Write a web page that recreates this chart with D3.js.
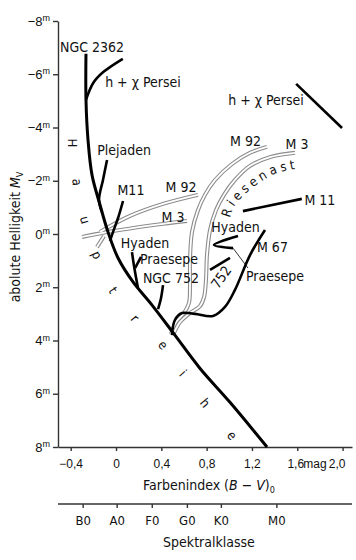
<!DOCTYPE html>
<html><head><meta charset="utf-8">
<script src="https://cdn.jsdelivr.net/npm/d3@7"></script>
<style>
html,body{margin:0;padding:0;background:#fff;}
svg{display:block;font-family:"Liberation Sans Narrow","DejaVu Sans Condensed","Roboto",sans-serif;}
</style></head><body>
<svg id="c" width="356" height="560"></svg>
<script>
// ---------- data ----------
const bvTicks = [-0.4, 0, 0.4, 0.8, 1.2, 1.6, 2.0];
const bvTickLabels = ["−0,4", "0", "0,4", "0,8", "1,2", "1,6", "2,0"];
const mvTicks = [-8, -6, -4, -2, 0, 2, 4, 6, 8];
const mvTickLabels = ["−8", "−6", "−4", "−2", "0", "2", "4", "6", "8"];
const spectralClasses = ["B0", "A0", "F0", "G0", "K0", "M0"];
const spectralBV = [-0.29, 0.01, 0.32, 0.63, 0.93, 1.42];

// main sequence (Hauptreihe) incl. NGC 2362 top, [B-V, Mv]
const mainSequence = [[-0.265,-6.77],[-0.265,-5.04],[-0.247,-3.53],[-0.212,-2.22],[-0.141,-1.09],
  [-0.071,-0.08],[0.018,0.90],[0.15,1.80],[0.318,2.67],[0.52,3.80],[0.74,5.04],[1.006,6.32],[1.333,8.0]];
// black cluster branches
const hChiPerseiMS = [[-0.265,-5.04],[-0.2,-5.68],[-0.11,-6.09],[0.06,-6.58]];
const hChiPerseiGiants = [[1.59,-5.64],[1.995,-3.98]];
const plejaden = [[-0.079,-2.78],[-0.115,-2.03],[-0.15,-1.28],[-0.124,-0.83]];
const m11MS = [[0.062,-1.24],[0.018,-0.60],[-0.026,-0.08],[-0.053,0.26]];
const m11Giants = [[1.12,-0.86],[1.64,-1.32]];
const hyadenMS = [[0.141,0.68],[0.159,1.20],[0.194,2.03]];
const praesepeMS = [[0.221,0.86],[0.168,1.28]];
const ngc752MS = [[0.415,1.92],[0.397,2.41],[0.371,2.82]];
const hyadenGiants = [[1.077,0.075],[0.865,0.41],[1.033,0.53]];
const ngc752Giants = [[0.83,1.35],[1.006,0.9]];
const m67 = [[1.315,-0.15],[1.183,0.79],[1.05,2.1],[0.962,2.74],[0.856,3.08],[0.697,3.0],[0.583,2.97],[0.52,3.23],[0.494,3.8]];
const praesepeLeader = [[1.033,0.53],[1.165,1.28]];
// globular clusters (double lines)
const m92RGB = [[0.485,3.76],[0.530,3.31],[0.600,2.97],[0.644,2.59],[0.653,1.92],[0.653,0.98],[0.671,-0.08],
  [0.724,-0.90],[0.785,-1.47],[0.874,-2.03],[1.024,-2.63],[1.183,-3.05],[1.333,-3.27]];
const m3RGB = [[0.503,3.80],[0.565,3.31],[0.653,2.97],[0.741,2.71],[0.777,2.37],[0.794,1.73],[0.803,0.79],
  [0.830,-0.15],[0.883,-0.90],[0.953,-1.47],[1.050,-2.03],[1.183,-2.56],[1.359,-2.89],[1.580,-3.05]];
const m92HB = [[-0.141,-0.08],[0.124,-0.68],[0.415,-1.13],[0.724,-1.47]];
const m3HB = [[-0.30,0.11],[-0.026,-0.11],[0.415,-0.38],[0.627,-0.49]];
const hbStub = [[-0.106,0.08],[-0.168,0.49]];

// labels [text, B-V, Mv]
const clusterLabels = [
  ["NGC 2362",-0.212,-6.84],["h + χ Persei",0.238,-5.53],["h + χ Persei",1.324,-4.85],
  ["Plejaden",0.071,-2.97],["M11",0.132,-1.47],["M 92",0.574,-1.58],["M 3",0.503,-0.45],
  ["Hyaden",0.256,0.53],["Praesepe",0.468,1.13],["NGC 752",0.485,1.84],
  ["M 92",1.143,-3.31],["M 3",1.598,-3.2],["Hyaden",1.055,-0.07],["M 11",1.80,-1.09],
  ["M 67",1.381,0.68],["Praesepe",1.403,1.77]];
// "Hauptreihe" letters [char, B-V, Mv, angle]
const hauptreiheLetters = [["H",-0.38,-3.42,90],["a",-0.344,-1.95,85],["u",-0.274,-0.53,75],["p",-0.168,0.79,65],
  ["t",-0.026,2.11,57],["r",0.168,3.16,50],["e",0.415,4.17,48],["i",0.591,5.23,48],["h",0.786,6.35,50],["e",1.024,7.56,50]];
const riesenastPath = [[0.997,-0.45],[1.041,-1.02],[1.103,-1.35],[1.192,-1.69],[1.289,-1.99],[1.403,-2.26],[1.536,-2.41],[1.62,-2.47]];

// ---------- chart ----------
const svg = d3.select("#c");
const x = d3.scaleLinear().domain([-0.512, 2.083]).range([58, 352]);
const y = d3.scaleLinear().domain([-8, 8]).range([21, 447]);
const line = d3.line().x(d => x(d[0])).y(d => y(d[1])).curve(d3.curveCatmullRom.alpha(0.5));
const axisColor = "#333";
const txt = "#111";

// Y axis
const gy = svg.append("g").attr("transform", "translate(58,0)")
  .call(d3.axisLeft(y).tickValues(mvTicks).tickSize(5).tickSizeOuter(0).tickPadding(3));
gy.selectAll("path,line").attr("stroke", axisColor).attr("stroke-width", 1.4);
gy.selectAll("text").each(function(d, i) {
  const t = d3.select(this).text("").attr("font-size", 13).attr("fill", txt).attr("font-family", null);
  t.append("tspan").text(mvTickLabels[i]);
  t.append("tspan").text("m").attr("font-size", 9).attr("dy", "-0.5em");
});

// X axis
const gx = svg.append("g").attr("transform", "translate(0,447)")
  .call(d3.axisBottom(x).tickValues(bvTicks).tickSize(4).tickSizeOuter(0).tickPadding(8)
    .tickFormat((d, i) => bvTickLabels[i]));
gx.selectAll("path,line").attr("stroke", axisColor).attr("stroke-width", 1.4);
gx.selectAll("text").attr("font-size", 12).attr("fill", txt).attr("font-family", null)
  .attr("dx", (d, i) => i === bvTicks.length - 1 ? -6 : (i === bvTicks.length - 2 ? -2 : 0));
gx.append("text").attr("x", 315).attr("y", 12).attr("dy", "0.71em")
  .attr("font-size", 12).attr("fill", txt).attr("text-anchor", "middle").text("mag");

// spectral class axis
const sx = d3.scaleOrdinal().domain(spectralClasses).range(spectralBV.map(v => x(v)));
const gs = svg.append("g").attr("transform", "translate(0,504)");
gs.append("line").attr("x1", 58).attr("x2", 352).attr("stroke", axisColor).attr("stroke-width", 1.4);
gs.selectAll("line.t").data(spectralClasses).join("line").attr("class", "t")
  .attr("x1", d => sx(d)).attr("x2", d => sx(d)).attr("y1", 0).attr("y2", 4)
  .attr("stroke", axisColor).attr("stroke-width", 1.4);
gs.selectAll("text").data(spectralClasses).join("text")
  .attr("x", d => sx(d)).attr("y", 21).attr("text-anchor", "middle")
  .attr("font-size", 13).attr("fill", txt).text(d => d);

// axis titles
const yt = svg.append("text").attr("transform", "translate(20,237) rotate(-90)")
  .attr("text-anchor", "middle").attr("font-size", 14).attr("fill", txt);
yt.append("tspan").text("abolute Helligkeit ");
yt.append("tspan").text("M").attr("font-style", "italic");
yt.append("tspan").text("V").attr("font-size", 9).attr("dy", 3);

const xt = svg.append("text").attr("x", 209).attr("y", 490).attr("text-anchor", "middle")
  .attr("font-size", 14).attr("fill", txt);
xt.append("tspan").text("Farbenindex (");
xt.append("tspan").text("B").attr("font-style", "italic");
xt.append("tspan").text(" − ");
xt.append("tspan").text("V").attr("font-style", "italic");
xt.append("tspan").text(")");
xt.append("tspan").text("0").attr("font-size", 9).attr("dy", 3);

svg.append("text").attr("x", 209).attr("y", 547).attr("text-anchor", "middle")
  .attr("font-size", 14).attr("fill", txt).text("Spektralklasse");

// double (outlined) globular cluster tracks
const doubles = [m92RGB, m3RGB, m92HB, m3HB, hbStub];
const dg = svg.append("g").attr("fill", "none");
dg.selectAll("path.o").data(doubles).join("path").attr("class", "o").attr("d", line)
  .attr("stroke", "#8c8c8c").attr("stroke-width", 4).attr("stroke-linecap", "butt");
dg.selectAll("path.i").data(doubles).join("path").attr("class", "i").attr("d", line)
  .attr("stroke", "#fff").attr("stroke-width", 1.8).attr("stroke-linecap", "butt");

// black tracks
const bg = svg.append("g").attr("fill", "none").attr("stroke", "#000").attr("stroke-linecap", "butt");
bg.append("path").attr("d", line(mainSequence)).attr("stroke-width", 3);
const branches = [hChiPerseiMS, hChiPerseiGiants, plejaden, m11MS, m11Giants, hyadenMS, praesepeMS,
  ngc752MS, hyadenGiants, ngc752Giants, m67];
bg.selectAll("path.b").data(branches).join("path").attr("class", "b").attr("d", line)
  .attr("stroke-width", 2.6).attr("stroke-linejoin", "miter");
bg.append("path").attr("d", line(praesepeLeader)).attr("stroke-width", 0.8);

// cluster labels
svg.append("g").selectAll("text").data(clusterLabels).join("text")
  .attr("x", d => x(d[1])).attr("y", d => y(d[2])).attr("text-anchor", "middle")
  .attr("font-size", 14).attr("fill", txt).text(d => d[0]);

// "752" rotated
svg.append("text").attr("transform", `translate(${x(0.927)},${y(1.62)}) rotate(-55)`)
  .attr("text-anchor", "middle").attr("dominant-baseline", "central")
  .attr("font-size", 14).attr("fill", txt).text("752");

// Hauptreihe letters
svg.append("g").selectAll("text").data(hauptreiheLetters).join("text")
  .attr("transform", d => `translate(${x(d[1])},${y(d[2])}) rotate(${d[3]})`)
  .attr("text-anchor", "middle").attr("dominant-baseline", "central")
  .attr("font-size", 13).attr("fill", txt).text(d => d[0]);

// Riesenast along path
svg.append("defs").append("path").attr("id", "riesen").attr("d", line(riesenastPath));
svg.append("text").attr("font-size", 13).attr("fill", txt).attr("letter-spacing", 3.6)
  .append("textPath").attr("href", "#riesen").attr("startOffset", 4).text("Riesenast");
</script>
</body></html>
